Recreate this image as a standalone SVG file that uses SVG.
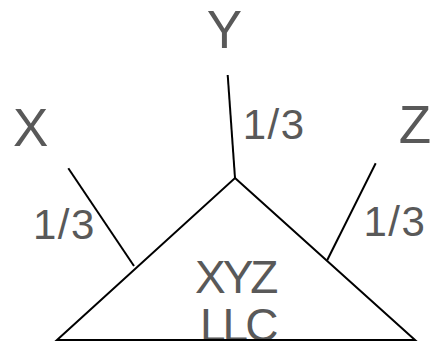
<svg xmlns="http://www.w3.org/2000/svg" width="433" height="342" viewBox="0 0 433 342">
<style>
.lbl{font-family:"Liberation Sans",Arial,sans-serif;fill:#595959;}
.big{font-size:53px;}
.frac{font-size:42px;letter-spacing:1.5px;}
.name{font-size:46px;letter-spacing:-3px;}
.edge{stroke:#000;stroke-width:2;fill:none;stroke-linecap:butt;}
</style>
<rect width="433" height="342" fill="#fff"/>
<g id="connectors">
<line class="edge" x1="68.3" y1="168.3" x2="134" y2="266"/>
<line class="edge" x1="227.7" y1="75" x2="235" y2="178"/>
<line class="edge" x1="375.7" y1="163.3" x2="327.3" y2="260"/>
<text class="lbl frac" x="33" y="239.3">1/3</text>
<text class="lbl frac" x="242.7" y="139.3">1/3</text>
<text class="lbl frac" x="363.5" y="236">1/3</text>
</g>
<g id="node-x"><text class="lbl big" x="13" y="145.7">X</text></g>
<g id="node-y"><text class="lbl big" x="224.5" y="47.7" text-anchor="middle">Y</text></g>
<g id="node-z"><text class="lbl big" x="398.7" y="143.3">Z</text></g>
<g id="node-xyz">
<text class="lbl name" x="195" y="292.7">XYZ</text>
<text class="lbl name" x="200" y="341">LLC</text>
<polygon class="edge" points="235,178 415,340 57,340" stroke-linejoin="miter"/>
</g>
</svg>
